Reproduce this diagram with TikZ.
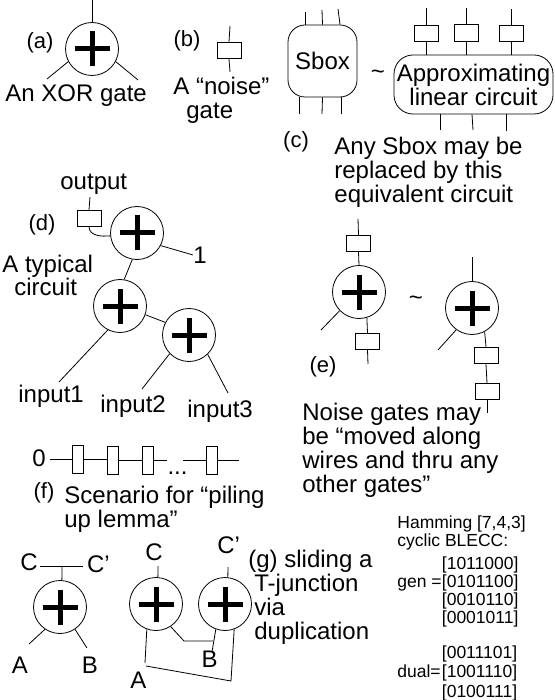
\documentclass[tikz,border=0pt]{standalone}
\usepackage{fontspec}
\setmainfont{Liberation Sans}
\usetikzlibrary{positioning}

\begin{document}
\begin{tikzpicture}[x=1pt,y=-1pt,line width=0.8pt]
    \tikzset{txt/.style={inner sep=0pt,font=\fontsize{24}{24}\selectfont,align=left}}
    \tikzset{tag/.style={inner sep=0pt,font=\fontsize{22}{22}\selectfont}}
    \tikzset{small/.style={inner sep=0pt,font=\fontsize{17.5}{18}\selectfont,align=left}}
    \tikzset{noisegate/.style={draw,rectangle,minimum width=24pt,minimum height=16.5pt,inner sep=0pt}}
    \tikzset{pilegate/.style={draw,rectangle,minimum width=11pt,minimum height=28pt,inner sep=0pt}}
    \tikzset{roundbox/.style={draw,rectangle,inner sep=0pt,align=center,font=\fontsize{24}{24}\selectfont}}
    \tikzset{xorgate/.style={draw,circle,minimum size=53pt,inner sep=0pt,
        path picture={
            \draw[line width=5pt] ([xshift=-17.5pt]path picture bounding box.center) -- ([xshift=17.5pt]path picture bounding box.center);
            \draw[line width=5pt] ([yshift=-17.5pt]path picture bounding box.center) -- ([yshift=17.5pt]path picture bounding box.center);
        }}}
    \useasboundingbox (0,0) rectangle (554,700);

    % (a)
    \node[xorgate] (xa) at (92,49) {};
    \coordinate (aw0) at (92,0);
    \coordinate (aw1) at (47,79);
    \coordinate (aw2) at (138,80);
    \draw (xa.90) -- (aw0);
    \draw (xa.208) -- (aw1);
    \draw (xa.-28) -- (aw2);
    \node[tag,anchor=base] (taga) at (40,49) {(a)};
    \node[txt,anchor=base west] (texta) at (5,102) {An XOR gate};

    % (b)
    \node[noisegate] (nb) at (229,50.5) {};
    \coordinate (bw0) at (230,26);
    \coordinate (bw1) at (230,72);
    \draw (nb.north) -- (bw0);
    \draw (nb.south) -- (bw1);
    \node[tag,anchor=base] (tagb) at (187,47) {(b)};
    \node[txt,anchor=base west] (textb1) at (173,95) {A “noise”};
    \node[txt,anchor=base west] (textb2) at (186,119) {gate};

    % (c)
    \node[roundbox,rounded corners=17pt,minimum width=69pt,minimum height=72pt] (sbox) at (322.5,61) {Sbox};
    \coordinate (st1) at (305,12);
    \coordinate (st2) at (322,10);
    \coordinate (st3) at (338,9);
    \coordinate (sb1) at (299,114);
    \coordinate (sb2) at (322,114);
    \coordinate (sb3) at (341,114);
    \draw ([xshift=-17.5pt]sbox.north) -- (st1);
    \draw (sbox.north) -- (st2);
    \draw ([xshift=17.5pt]sbox.north) -- (st3);
    \draw ([xshift=-23.5pt]sbox.south) -- (sb1);
    \draw (sbox.south) -- (sb2);
    \draw ([xshift=18.5pt]sbox.south) -- (sb3);
    \node[txt] (simc) at (378,75) {\char`\~};
    \node[roundbox,rounded corners=19pt,minimum width=159pt,minimum height=59pt] (lin) at (473.5,84.5) {Approximating\\linear circuit};
    \node[noisegate] (nc1) at (426,33.5) {};
    \node[noisegate] (nc2) at (466,33) {};
    \node[noisegate] (nc3) at (511,33.5) {};
    \coordinate (ct1) at (426,8);
    \coordinate (ct2) at (466,8);
    \coordinate (ct3) at (511,9);
    \coordinate (cb1) at (440,130);
    \coordinate (cb2) at (473,130);
    \coordinate (cb3) at (506,131);
    \draw (nc1.north) -- (ct1);
    \draw (nc2.north) -- (ct2);
    \draw (nc3.north) -- (ct3);
    \draw (nc1.south) -- (nc1.south |- lin.north);
    \draw (nc2.south) -- (nc2.south |- lin.north);
    \draw (nc3.south) -- (nc3.south |- lin.north);
    \draw (cb1 |- lin.south) -- (cb1);
    \draw ([xshift=-1pt]cb2 |- lin.south) -- (cb2);
    \draw (cb3 |- lin.south) -- (cb3);
    \node[tag,anchor=base] (tagc) at (296,148) {(c)};
    \node[txt,anchor=base west] (textc) at (334,203) {Any Sbox may be\\replaced by this\\equivalent circuit};

    % (d)
    \node[txt,anchor=base west] (out) at (60,190) {output};
    \node[noisegate] (nd) at (89,218.5) {};
    \node[xorgate] (d1) at (137,233) {};
    \node[xorgate] (d2) at (120,306) {};
    \node[xorgate] (d3) at (189,335) {};
    \coordinate (dw0) at (90,197);
    \coordinate (dw1) at (193,255);
    \coordinate (dw2) at (59,382);
    \coordinate (dw3) at (142,389);
    \coordinate (dw4) at (228,393);
    \draw (nd.north) -- (dw0);
    \draw (nd.south) to[out=-85,in=186] (d1.186);
    \draw (d1.-28) -- (dw1);
    \draw (d1.-100) -- (d2.81);
    \draw (d2.-19) -- (d3.152);
    \draw (d2.243) -- (dw2);
    \draw (d3.224) -- (dw3);
    \draw (d3.-46) -- (dw4);
    \node[tag,anchor=base] (tagd) at (42,231) {(d)};
    \node[txt,anchor=base west] (textd1) at (2,272) {A typical};
    \node[txt,anchor=base west] (textd2) at (14,295) {circuit};
    \node[txt,anchor=base] (one) at (200,263) {1};
    \node[txt,anchor=base west] (in1) at (18,402) {input1};
    \node[txt,anchor=base west] (in2) at (100,412) {input2};
    \node[txt,anchor=base west] (in3) at (187,417) {input3};

    % (e)
    \node[xorgate] (e1) at (359,292) {};
    \node[xorgate] (e2) at (472,308) {};
    \node[noisegate] (ne1) at (358.5,243.5) {};
    \node[noisegate] (ne2) at (367.5,341.5) {};
    \node[noisegate] (ne3) at (486,355.5) {};
    \node[noisegate] (ne4) at (487,391.5) {};
    \coordinate (ew0) at (358,219);
    \coordinate (ew1) at (321,330);
    \coordinate (ew2) at (368,364);
    \coordinate (ew3) at (472,257);
    \coordinate (ew4) at (438,350);
    \coordinate (ew5) at (487,413);
    \draw (ne1.north) -- (ew0);
    \draw (ne1.south) -- (e1.90);
    \draw (e1.224) -- (ew1);
    \draw (e1.-73) -- (ne2.north);
    \draw (ne2.south) -- (ew2);
    \draw (e2.90) -- (ew3);
    \draw (e2.234) -- (ew4);
    \draw (e2.-62) -- (ne3.north);
    \draw (ne3.south) -- (ne4.north);
    \draw (ne4.south) -- (ew5);
    \node[txt] (sime) at (416,301) {\char`\~};
    \node[tag,anchor=base] (tage) at (323,372) {(e)};
    \node[txt,anchor=base west] (texte) at (302,492) {Noise gates may\\be “moved along\\wires and thru any\\other gates”};

    % (f)
    \node[txt,anchor=base,inner sep=4pt] (zero) at (39,466) {0};
    \node[pilegate] (f1) at (77.5,459) {};
    \node[pilegate] (f2) at (112.5,460) {};
    \node[pilegate] (f3) at (147.5,460) {};
    \node[pilegate] (f4) at (211.5,460) {};
    \node[txt,anchor=base] (dots) at (177.5,474) {...};
    \coordinate (fw0) at (167,460);
    \coordinate (fw1) at (183,460);
    \coordinate (fw2) at (239,460);
    \draw (zero.east |- f1) -- (f1.west);
    \draw (f1.east) -- (f1.east -| f2.west);
    \draw (f2.east) -- (f3.west);
    \draw (f3.east) -- (fw0);
    \draw (fw1) -- (f4.west);
    \draw (f4.east) -- (fw2);
    \node[tag,anchor=base] (tagf) at (44,498) {(f)};
    \node[txt,anchor=base west] (textf) at (64,527) {Scenario for “piling\\up lemma”};

    % (g)
    \node[xorgate] (g0) at (60,607) {};
    \node[xorgate] (g1) at (156,604) {};
    \node[xorgate] (g2) at (225,604) {};
    \node[txt,anchor=base,inner sep=2pt] (c0) at (29,570) {C};
    \node[txt,anchor=base,inner sep=4pt] (c0p) at (98.5,572) {C’};
    \coordinate (gt) at (62,566);
    \coordinate (gw1) at (29,644);
    \coordinate (gw2) at (87,648);
    \draw (c0.east |- gt) -- (c0p.west |- gt);
    \draw (gt) -- (g0.86);
    \draw (g0.236) -- (gw1);
    \draw (g0.-56) -- (gw2);
    \node[txt,anchor=base] (a0) at (20,673) {A};
    \node[txt,anchor=base] (b0) at (90,673) {B};
    \node[txt,anchor=base] (c1) at (154,560) {C};
    \node[txt,anchor=base west] (c1p) at (217,553) {C’};
    \coordinate (gw3) at (158,566);
    \coordinate (gw4) at (228,567);
    \coordinate (gw5) at (145,663);
    \coordinate (gw6) at (146,666);
    \coordinate (gw7) at (231,681);
    \coordinate (gw8) at (184,641);
    \coordinate (gw9) at (213,641);
    \coordinate (gw10) at (212,652);
    \draw (g1.86) -- (gw3);
    \draw (g2.84) -- (gw4);
    \draw (g1.250) -- (gw5);
    \draw (gw6) -- (gw7) -- (g2.-70);
    \draw (g1.-57) -- (gw8) -- (gw9);
    \draw (g2.250) -- (gw10);
    \node[txt,anchor=base] (a1) at (138.5,688) {A};
    \node[txt,anchor=base] (b1) at (209.5,667) {B};
    \node[txt,anchor=base west] (textg0) at (248,567) {(g) sliding a};
    \node[txt,anchor=base west] (textg) at (254,639) {T-junction\\via\\duplication};

    % hamming
    \node[small,anchor=base west] (ham) at (397,546) {Hamming [7,4,3]\\cyclic BLECC:};
    \node[small,anchor=base west] (gen) at (397,587) {gen =};
    \node[small,anchor=base west] (genm) at (441.5,623) {[1011000]\\{}[0101100]\\{}[0010110]\\{}[0001011]};
    \node[small,anchor=base west] (dual) at (397,677) {dual=};
    \node[small,anchor=base west,font=\fontsize{17.5}{19.5}\selectfont] (dualm) at (441.5,697) {[0011101]\\{}[1001110]\\{}[0100111]};
\end{tikzpicture}
\end{document}
